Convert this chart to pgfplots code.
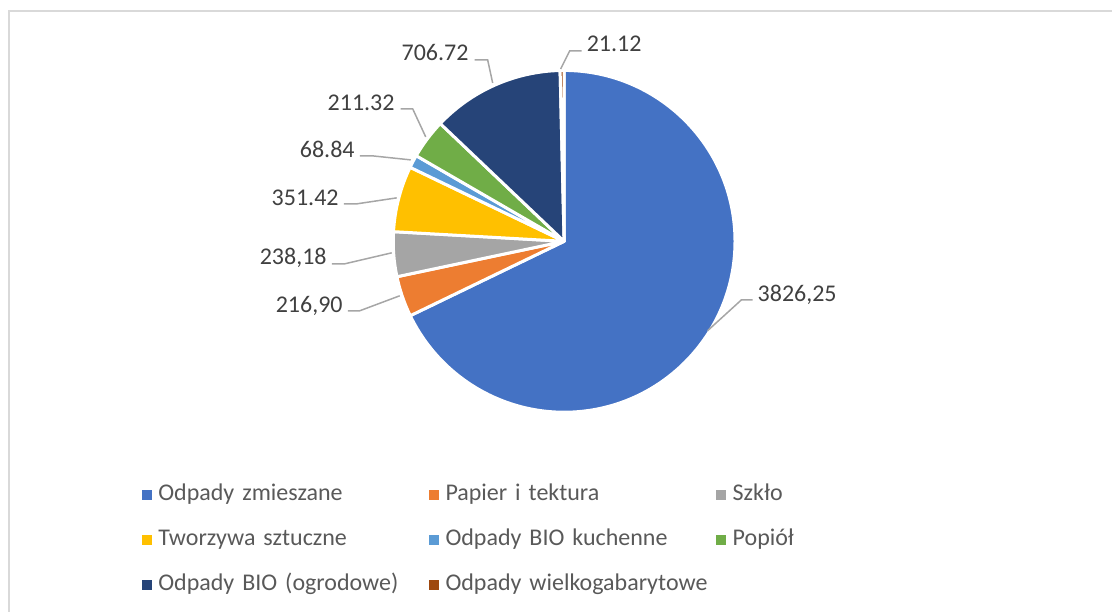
\documentclass[border=0pt]{standalone}
\usepackage{pgfplots}
\usepackage{pgfplotstable}
\pgfplotsset{compat=1.18}
\usepackage{fontspec}
\setmainfont{Carlito}
\definecolor{pie0}{HTML}{4472C4}
\definecolor{pie1}{HTML}{ED7D31}
\definecolor{pie2}{HTML}{A5A5A5}
\definecolor{pie3}{HTML}{FFC000}
\definecolor{pie4}{HTML}{5B9BD5}
\definecolor{pie5}{HTML}{70AD47}
\definecolor{pie6}{HTML}{264478}
\definecolor{pie7}{HTML}{9E480E}
\definecolor{lbl}{HTML}{404040}
\definecolor{leg}{HTML}{595959}
\definecolor{lead}{HTML}{A6A6A6}
\definecolor{frame}{HTML}{D9D9D9}
\pgfplotstableread{
idx v
0 3826.25
1 216.90
2 238.18
3 351.42
4 68.84
5 211.32
6 706.72
7 21.12
}\piedata
\begin{document}
\begin{tikzpicture}
% cumulative angles (Excel: start at 12 o'clock, clockwise)
\gdef\pietotal{0}
\foreach \i in {0,...,7}{%
  \pgfplotstablegetelem{\i}{v}\of\piedata
  \pgfmathsetmacro\tmp{\pietotal+\pgfplotsretval}%
  \xdef\pietotal{\tmp}}
\gdef\piecur{90}
\foreach \i in {0,...,7}{%
  \pgfplotstablegetelem{\i}{v}\of\piedata
  \pgfmathsetmacro\tmpe{\piecur-\pgfplotsretval/\pietotal*360}%
  \expandafter\xdef\csname sa\i\endcsname{\piecur}%
  \expandafter\xdef\csname ea\i\endcsname{\tmpe}%
  \xdef\piecur{\tmpe}}
\begin{axis}[
  x=1pt, y=1pt,
  xmin=0, xmax=1113, ymin=0, ymax=612,
  enlargelimits=false,
  hide axis, clip=false,
  legend columns=3,
  legend cell align=left,
  legend image code/.code={\fill[#1] (0pt,-4.5pt) rectangle (9pt,4.5pt);},
  legend style={
    draw=none, fill=none, inner sep=0pt, outer sep=0pt,
    at={(axis cs:142,128)}, anchor=north west,
    font=\fontsize{24}{29}\selectfont, text=leg,
    row sep=22pt,
    nodes={inner sep=0pt, text width=271pt, text height=17pt, text depth=6pt},
    /tikz/every odd column/.append style={column sep=7pt},
    /tikz/every even column/.append style={column sep=0pt},
  },
]
\path (axis cs:0,0) rectangle (axis cs:1113,612);
\draw[frame, line width=1.5pt] (axis cs:9,0) -- (axis cs:9,601) -- (axis cs:1113,601);
\pgfplotsinvokeforeach{0,...,7}{%
  \fill[fill=pie#1, draw=white, line width=3pt, line join=round]
    (axis cs:564.5,370.5) -- ++(\csname sa#1\endcsname:171pt)
    arc[start angle=\csname sa#1\endcsname, end angle=\csname ea#1\endcsname, radius=171pt] -- cycle;
}
% leader lines
\begin{scope}[lead, line width=1.5pt]
\draw (axis cs:708,281) -- (axis cs:742,312) -- (axis cs:753,312);
\draw (axis cs:400,316) -- (axis cs:360,301) -- (axis cs:348,301);
\draw (axis cs:392,359) -- (axis cs:345,348) -- (axis cs:332,348);
\draw (axis cs:397,414) -- (axis cs:357,408) -- (axis cs:344,408);
\draw (axis cs:411,452) -- (axis cs:373,456) -- (axis cs:360,456);
\draw (axis cs:426,475) -- (axis cs:413,503) -- (axis cs:401,503);
\draw (axis cs:493,529) -- (axis cs:488,552) -- (axis cs:475,552);
\draw (axis cs:561,543) -- (axis cs:570,561) -- (axis cs:582,561);
\end{scope}
\begin{scope}[every node/.style={inner sep=0pt, text=lbl, font=\fontsize{24}{29}\selectfont}]
\node[anchor=west] at (axis cs:758,317) {3826,25};
\node[anchor=east] at (axis cs:343,306) {216,90};
\node[anchor=east] at (axis cs:327,354) {238,18};
\node[anchor=east] at (axis cs:339,414) {351.42};
\node[anchor=east] at (axis cs:355,462) {68.84};
\node[anchor=east] at (axis cs:395,509) {211.32};
\node[anchor=east] at (axis cs:469,559) {706.72};
\node[anchor=west] at (axis cs:587,568) {21.12};
\end{scope}
\addlegendimage{pie0}\addlegendentry{Odpady zmieszane}
\addlegendimage{pie1}\addlegendentry{Papier i tektura}
\addlegendimage{pie2}\addlegendentry{Szkło}
\addlegendimage{pie3}\addlegendentry{Tworzywa sztuczne}
\addlegendimage{pie4}\addlegendentry{Odpady BIO kuchenne}
\addlegendimage{pie5}\addlegendentry{Popiół}
\addlegendimage{pie6}\addlegendentry{Odpady BIO (ogrodowe)}
\addlegendimage{pie7}\addlegendentry{Odpady wielkogabarytowe}
\end{axis}
\end{tikzpicture}
\end{document}
